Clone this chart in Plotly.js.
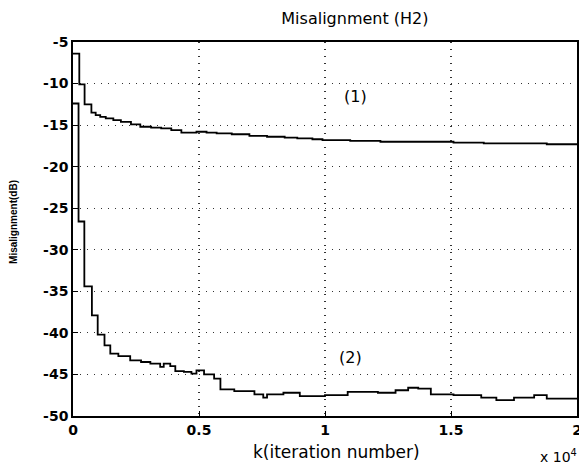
<!DOCTYPE html>
<html><head><meta charset="utf-8">
<script src="https://cdn.plot.ly/plotly-3.0.1.min.js"></script>
<style>html,body{margin:0;padding:0;background:#fff}#chart{width:579px;height:465px}</style>
</head><body><div id="chart"></div>
<script>
const x1 = [0, 0.025, 0.046, 0.073, 0.09, 0.108, 0.13, 0.16, 0.19, 0.23, 0.267, 0.31, 0.35, 0.39, 0.43, 0.46, 0.49, 0.53, 0.57, 0.63, 0.70, 0.77, 0.84, 0.89, 0.95, 0.99, 1.1, 1.22, 1.35, 1.51, 1.63, 1.75, 1.88, 2.0];
const y1 = [-6.4, -10.1, -12.5, -13.5, -13.8, -14.0, -14.2, -14.4, -14.6, -14.9, -15.2, -15.3, -15.4, -15.6, -15.9, -15.9, -15.8, -15.9, -16.0, -16.1, -16.3, -16.4, -16.5, -16.6, -16.7, -16.8, -16.9, -17.0, -17.0, -17.1, -17.2, -17.2, -17.3, -17.3];
const x2 = [0, 0.022, 0.045, 0.075, 0.098, 0.125, 0.148, 0.18, 0.227, 0.27, 0.307, 0.346, 0.36, 0.386, 0.406, 0.44, 0.47, 0.49, 0.52, 0.56, 0.585, 0.64, 0.72, 0.755, 0.77, 0.835, 0.9, 1.0, 1.09, 1.21, 1.28, 1.33, 1.37, 1.42, 1.51, 1.62, 1.68, 1.75, 1.83, 1.88, 1.95, 2.0];
const y2 = [-12.4, -26.6, -34.4, -37.9, -40.2, -41.5, -42.5, -42.8, -43.3, -43.5, -43.7, -44.1, -43.7, -44.0, -44.6, -44.7, -44.9, -44.5, -45.0, -45.5, -46.8, -47.0, -47.4, -47.8, -47.4, -47.2, -47.6, -47.5, -47.1, -47.2, -46.9, -46.6, -46.7, -47.4, -47.5, -47.8, -48.1, -47.8, -47.5, -47.9, -47.9, -48.0];
const xTicks = [0, 0.5, 1, 1.5, 2];
const xTickText = ["0", "0.5", "1", "1.5", "2"];
const yTicks = [-50, -45, -40, -35, -30, -25, -20, -15, -10, -5];
const yTickText = ["-50", "-45", "-40", "-35", "-30", "-25", "-20", "-15", "-10", "-5"];
const curveLabels = ["(1)", "(2)"];
const labelPos = [[1.12, -11.6], [1.10, -43.0]];

const dv = "DejaVu Sans, sans-serif";
const lib = "Liberation Sans, Arial, sans-serif";
const traces = [
  {x: x1, y: y1, mode: "lines", line: {shape: "hv", color: "#000", width: 1.8}, hoverinfo: "none"},
  {x: x2, y: y2, mode: "lines", line: {shape: "hv", color: "#000", width: 1.8}, hoverinfo: "none"}
];
const axisCommon = {
  showline: true, mirror: true, linecolor: "#000", linewidth: 1.8,
  ticks: "inside", ticklen: 5, tickcolor: "#000",
  showgrid: true, gridcolor: "#333", griddash: "1px,6px", gridwidth: 1.2,
  zeroline: false, tickmode: "array", ticklabeloverflow: "allow",
  tickfont: {family: dv, size: 14, color: "#000", weight: "bold"}
};
const layout = {
  width: 579, height: 465,
  margin: {l: 73, r: 2, t: 42, b: 49},
  paper_bgcolor: "#fff", plot_bgcolor: "#fff",
  showlegend: false,
  title: {text: "Misalignment (H2)", font: {family: dv, size: 16, color: "#000"}, x: 0.613, xanchor: "center", y: 0.961, yanchor: "middle"},
  xaxis: Object.assign({}, axisCommon, {range: [0, 2], tickvals: xTicks, ticktext: xTickText}),
  yaxis: Object.assign({}, axisCommon, {range: [-50, -5], tickvals: yTicks, ticktext: yTickText}),
  annotations: [
    {text: curveLabels[0], x: labelPos[0][0], y: labelPos[0][1], xref: "x", yref: "y", showarrow: false, font: {family: dv, size: 16, color: "#000"}},
    {text: curveLabels[1], x: labelPos[1][0], y: labelPos[1][1], xref: "x", yref: "y", showarrow: false, font: {family: dv, size: 16, color: "#000"}},
    {text: "k(iteration number)", x: 0.522, y: -0.096, xref: "paper", yref: "paper", xanchor: "center", yanchor: "middle", showarrow: false, font: {family: dv, size: 17, color: "#000"}},
    {text: "Misalignment(dB)", x: -0.117, y: 0.519, xref: "paper", yref: "paper", xanchor: "center", yanchor: "middle", textangle: -90, showarrow: false, font: {family: lib, size: 10, color: "#000", weight: "bold"}},
    {text: "x 10<sup>4</sup>", x: 0.9226, y: -0.108, xref: "paper", yref: "paper", xanchor: "left", yanchor: "middle", showarrow: false, font: {family: dv, size: 14, color: "#000"}}
  ]
};
Plotly.newPlot("chart", traces, layout, {staticPlot: true, displayModeBar: false});
</script></body></html>
